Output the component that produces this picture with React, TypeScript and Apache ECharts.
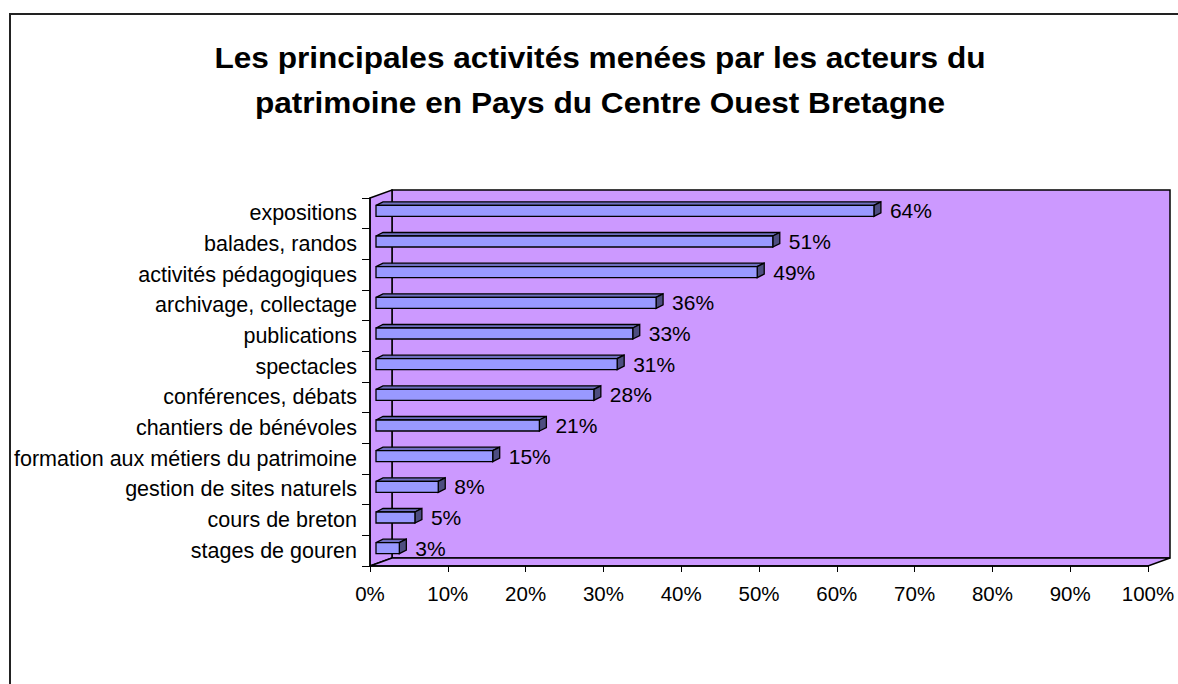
import React, { useEffect, useRef } from "react";
import * as echarts from "echarts";

const titleLines = [
  "Les principales activités menées par les acteurs du",
  "patrimoine en Pays du Centre Ouest Bretagne",
];
const categories = [
  "expositions",
  "balades, randos",
  "activités pédagogiques",
  "archivage, collectage",
  "publications",
  "spectacles",
  "conférences, débats",
  "chantiers de bénévoles",
  "formation aux métiers du patrimoine",
  "gestion de sites naturels",
  "cours de breton",
  "stages de gouren",
];
const values = [64, 51, 49, 36, 33, 31, 28, 21, 15, 8, 5, 3];
const xTicks = [0, 10, 20, 30, 40, 50, 60, 70, 80, 90, 100];

const FONT = "'Liberation Sans', Arial, sans-serif";
const WALL = "#CC99FF";
const DEPTH_X = 22;
const DEPTH_Y = -8;

export default function App() {
  const ref = useRef<HTMLDivElement>(null);
  useEffect(() => {
    if (!ref.current) return;
    const chart = echarts.init(ref.current, undefined, { renderer: "svg" });
    const n = categories.length;
    const option: any = {
      animation: false,
      backgroundColor: "#ffffff",
      graphic: [
        {
          type: "rect",
          shape: { x: 10, y: 14, width: 1300, height: 800 },
          style: { fill: "none", stroke: "#222", lineWidth: 2 },
          z: 0,
        },
        ...titleLines.map((t, i) => ({
          type: "text",
          x: 600,
          y: 58 + i * 45,
          scaleX: 1.09,
          style: {
            text: t,
            fill: "#000",
            font: `bold 29px ${FONT}`,
            textAlign: "center",
            textVerticalAlign: "middle",
          },
        })),
      ],
      grid: { left: 370, right: 30, top: 198, bottom: 118, containLabel: false },
      xAxis: {
        type: "value",
        min: xTicks[0],
        max: xTicks[xTicks.length - 1],
        interval: 10,
        z: 10,
        axisLine: { show: true, lineStyle: { color: "#000", width: 1.5 } },
        axisTick: { show: true, length: 6, lineStyle: { color: "#000" } },
        splitLine: { show: false },
        axisLabel: {
          formatter: "{value}%",
          fontSize: 20.5,
          color: "#000",
          fontFamily: FONT,
          margin: 17,
        },
      },
      yAxis: {
        type: "category",
        data: categories,
        inverse: true,
        z: 10,
        axisLine: { show: true, lineStyle: { color: "#000", width: 1.5 } },
        axisTick: { show: true, length: 8, interval: 0, lineStyle: { color: "#000" } },
        axisLabel: {
          fontSize: 21.5,
          color: "#000",
          fontFamily: FONT,
          margin: 13,
          interval: 0,
          padding: [0, 0, 4, 0],
        },
      },
      series: [
        {
          type: "custom",
          z: 1,
          silent: true,
          data: [[0, 0]],
          renderItem: (params: any, api: any) => {
            const a = api.coord([xTicks[0], 0]);
            const b = api.coord([xTicks[xTicks.length - 1], n - 1]);
            const bh = api.size([0, 1])[1];
            const left = a[0];
            const right = b[0];
            const top = a[1] - bh / 2;
            const bottom = b[1] + bh / 2;
            const st = { fill: WALL, stroke: "#000", lineWidth: 1.5 };
            return {
              type: "group",
              children: [
                {
                  type: "rect",
                  shape: {
                    x: left + DEPTH_X,
                    y: top + DEPTH_Y,
                    width: right - left,
                    height: bottom - top,
                  },
                  style: st,
                },
                {
                  type: "polygon",
                  shape: {
                    points: [
                      [left, top],
                      [left + DEPTH_X, top + DEPTH_Y],
                      [left + DEPTH_X, bottom + DEPTH_Y],
                      [left, bottom],
                    ],
                  },
                  style: st,
                },
                {
                  type: "polygon",
                  shape: {
                    points: [
                      [left, bottom],
                      [right, bottom],
                      [right + DEPTH_X, bottom + DEPTH_Y],
                      [left + DEPTH_X, bottom + DEPTH_Y],
                    ],
                  },
                  style: st,
                },
              ],
            };
          },
        },
        {
          type: "custom",
          z: 3,
          data: values.map((v, i) => [v, i]),
          encode: { x: 0, y: 1 },
          renderItem: (params: any, api: any) => {
            const v = api.value(0);
            const idx = api.value(1);
            const p0 = api.coord([0, idx]);
            const p1 = api.coord([v, idx]);
            const off = 6;
            const cy = p0[1] - 2.5;
            const h = 11;
            const dx = 7;
            const dy = -3.5;
            const x0 = p0[0] + off;
            const x1 = p1[0] + off;
            const y0 = cy - h / 2;
            const y1 = cy + h / 2;
            const line = { stroke: "#000", lineWidth: 1.3 };
            return {
              type: "group",
              children: [
                {
                  type: "polygon",
                  shape: { points: [[x0, y0], [x1, y0], [x1 + dx, y0 + dy], [x0 + dx, y0 + dy]] },
                  style: { fill: "#6F6FC0", ...line },
                },
                {
                  type: "polygon",
                  shape: { points: [[x1, y0], [x1 + dx, y0 + dy], [x1 + dx, y1 + dy], [x1, y1]] },
                  style: { fill: "#4D4D80", ...line },
                },
                {
                  type: "rect",
                  shape: { x: x0, y: y0, width: x1 - x0, height: h },
                  style: { fill: "#9999FF", ...line },
                },
                {
                  type: "text",
                  x: x1 + 16,
                  y: cy,
                  style: {
                    text: v + "%",
                    fill: "#000",
                    font: `21px ${FONT}`,
                    textAlign: "left",
                    textVerticalAlign: "middle",
                  },
                },
              ],
            };
          },
        },
      ],
    };
    chart.setOption(option);
    return () => chart.dispose();
  }, []);
  return (
    <div
      ref={ref}
      style={{ position: "fixed", left: 0, top: 0, width: 1178, height: 684 }}
    />
  );
}
